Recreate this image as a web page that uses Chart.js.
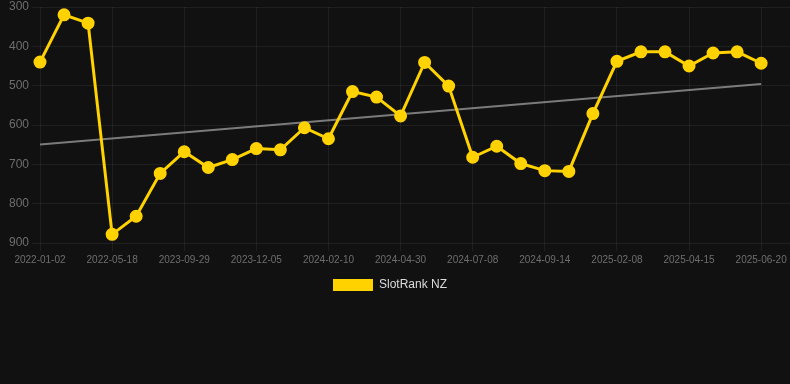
<!DOCTYPE html>
<html>
<head>
<meta charset="utf-8">
<script src="https://cdn.jsdelivr.net/npm/chart.js@4/dist/chart.umd.min.js"></script>
<style>
  html, body { margin: 0; padding: 0; background: #111111; }
  #wrap { width: 790px; height: 301px; position: relative; }
</style>
</head>
<body>
<div id="wrap"><canvas id="c"></canvas></div>
<script>
// Tick labels shown on the x axis (every third observation)
const tickLabels = ["2022-01-02","2022-05-18","2023-09-29","2023-12-05","2024-02-10","2024-04-30","2024-07-08","2024-09-14","2025-02-08","2025-04-15","2025-06-20"];
// SlotRank NZ values (rank, lower is better), one per observation
const rankValues = [440,320,341,878,832,723,668,708,688,660,663,607,635,515,529,577,441,501,682,654,698,716,718,571,438,414,414,450,417,414,443];
const seriesName = "SlotRank NZ";

const points = rankValues.map((v, i) => ({ x: i, y: v }));

// least-squares trend line derived from the series
const n = rankValues.length;
const mx = (n - 1) / 2;
const my = rankValues.reduce((a, b) => a + b, 0) / n;
let sxy = 0, sxx = 0;
rankValues.forEach((v, i) => { sxy += (i - mx) * (v - my); sxx += (i - mx) * (i - mx); });
const slope = sxy / sxx;
const trend = [0, n - 1].map(i => ({ x: i, y: my + slope * (i - mx) }));

const gold = '#FFD200';
const FONT = '"Liberation Sans", Arial, Helvetica, sans-serif';

// narrows the legend's layout box slightly so it is centred like the reference
const legendInset = {
  id: 'legendInset',
  afterLayout: chart => {
    if (chart.legend) { chart.legend.right -= 10; chart.legend.width -= 10; }
  }
};

new Chart(document.getElementById('c'), {
  type: 'line',
  plugins: [legendInset],
  data: {
    datasets: [
      {
        label: seriesName,
        data: points,
        borderColor: gold,
        backgroundColor: gold,
        borderWidth: 3,
        pointRadius: 5,
        pointHoverRadius: 5,
        pointBackgroundColor: gold,
        pointBorderColor: gold,
        tension: 0,
        clip: false,
        order: 1
      },
      {
        label: 'trend',
        data: trend,
        borderColor: 'rgba(150,150,150,0.8)',
        borderWidth: 2,
        pointRadius: 0,
        fill: false,
        order: 2
      }
    ]
  },
  options: {
    responsive: true,
    maintainAspectRatio: false,
    animation: false,
    layout: { padding: 0, autoPadding: false },
    plugins: {
      legend: {
        position: 'bottom',
        labels: {
          color: '#dddddd',
          font: { family: FONT, size: 12 },
          boxWidth: 40,
          boxHeight: 12,
          generateLabels: chart => {
            const items = Chart.defaults.plugins.legend.labels.generateLabels(chart);
            return items.filter(it => it.text !== 'trend').map(it => Object.assign(it, { lineWidth: 0 }));
          }
        }
      },
      tooltip: { enabled: false }
    },
    scales: {
      x: {
        type: 'linear',
        min: 0,
        max: 31.2,
        afterBuildTicks: axis => {
          axis.ticks = tickLabels.map((_, k) => ({ value: k * 3 }));
        },
        afterFit: axis => { axis.paddingLeft = 0; axis.paddingRight = 0; },
        ticks: {
          color: '#6e6e6e',
          font: { family: FONT, size: 10 },
          maxRotation: 0,
          autoSkip: false,
          callback: v => tickLabels[Math.round(v / 3)] ?? ''
        },
        grid: { color: 'rgba(255,255,255,0.06)', tickColor: 'rgba(255,255,255,0.06)' },
        border: { display: false }
      },
      y: {
        reverse: true,
        min: 300,
        max: 900,
        afterFit: axis => { axis.width = 40; axis.paddingTop = 7; axis.paddingBottom = 0; },
        ticks: {
          stepSize: 100,
          color: '#6e6e6e',
          font: { family: FONT, size: 12 }
        },
        grid: { color: 'rgba(255,255,255,0.06)', tickColor: 'rgba(255,255,255,0.06)' },
        border: { display: false }
      }
    }
  }
});
</script>
</body>
</html>
